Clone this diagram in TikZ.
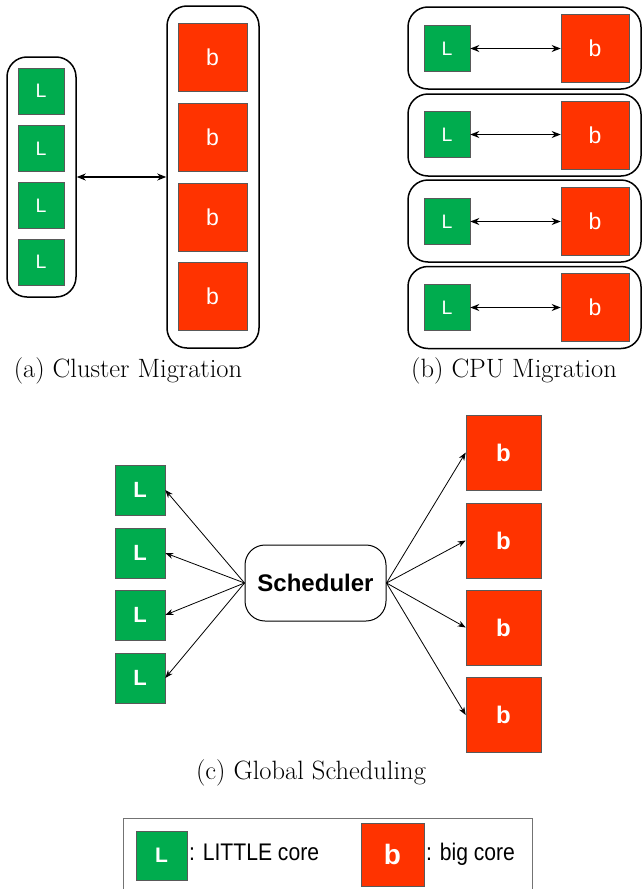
\documentclass[tikz,border=0pt]{standalone}
\usepackage{fontspec}
\newfontfamily\arial{Liberation Sans}
\usetikzlibrary{arrows.meta}
\definecolor{cgreen}{RGB}{0,172,78}
\definecolor{cred}{RGB}{255,51,0}
\begin{document}
\begin{tikzpicture}[x=1pt,y=-1pt,
  core/.style={draw=black!65,line width=0.6pt,inner sep=0pt,text=white},
  little/.style={core,fill=cgreen,minimum size=#1},
  big/.style={core,fill=cred,minimum size=#1},
  ltxt/.style={font=\arial\fontsize{19.5}{19.5}\selectfont},
  btxt/.style={font=\arial\fontsize{23}{23}\selectfont},
  lbold/.style={font=\arial\bfseries\fontsize{22}{22}\selectfont},
  bbold/.style={font=\arial\bfseries\fontsize{24}{24}\selectfont},
  cont/.style={draw=black,line width=1.5pt,rounded corners=20pt,inner sep=0pt},
  dbl/.style={{Stealth[length=9pt,width=7pt]}-{Stealth[length=9pt,width=7pt]},line width=1.6pt},
  sarr/.style={-{Stealth[length=8pt,width=6pt]},line width=0.8pt},
  capt/.style={font=\fontsize{26.5}{30}\selectfont,inner sep=0pt},
  legt/.style={anchor=west,inner sep=0pt,xscale=0.88,transform shape,font=\arial\fontsize{24}{24}\selectfont}
]
\useasboundingbox (0,0) rectangle (642,889);
% ---------- (a) Cluster Migration
\node[cont,minimum width=69pt,minimum height=240pt] (ca) at (41.5,177) {};
\node[cont,minimum width=92pt,minimum height=342pt] (cb) at (213,177) {};
\foreach \y [count=\i] in {91,148.5,205.5,262}
  \node[little=46pt,ltxt] (aL\i) at (41,\y) {L};
\foreach \y [count=\i] in {57.5,137.5,217,296}
  \node[big=68pt,minimum width=69pt,btxt] (ab\i) at (212.5,\y) {b};
\draw[dbl] (ca.east) -- (cb.west);
\node[capt] (capa) at (128,371) {(a) Cluster Migration};
% ---------- (b) CPU Migration
\foreach \y/\gy/\ry [count=\i] in {48/48.5/48,135/134.5/135,221/221.5/221,307.5/307.5/307.5}{
  \node[cont,minimum width=233pt,minimum height=82pt] (row\i) at (524.5,\y) {};
  \node[little=46pt,ltxt] (bL\i) at (447,\gy) {L};
  \node[big=68pt,btxt] (bb\i) at (595,\ry) {b};
  \draw[dbl] (bL\i.east) -- (bb\i.west |- bL\i.east);
}
\node[capt] (capb) at (514,371) {(b) CPU Migration};
% ---------- (c) Global Scheduling
\node[draw=black,line width=1pt,rounded corners=20pt,minimum width=141pt,minimum height=76pt,
  font=\arial\bfseries\fontsize{24}{24}\selectfont] (sch) at (315.5,583) {Scheduler};
\foreach \y [count=\i] in {490,553,615,678}{
  \node[little=50pt,lbold] (cL\i) at (140,\y) {L};
  \draw[sarr] (sch.west) -- (cL\i.east);
}
\foreach \y [count=\i] in {452.5,540.5,627.5,715}{
  \node[big=75pt,bbold] (cb\i) at (503.5,\y) {b};
  \draw[sarr] (sch.east) -- (cb\i.west);
}
\node[capt] (capc) at (311,773) {(c) Global Scheduling};
% ---------- legend
\draw[black!55,line width=0.8pt] (123,895) -- (123,818) -- (532,818) -- (532,895);
\node[little=49pt,minimum width=51pt,font=\arial\bfseries\fontsize{21}{21}\selectfont] (legL) at (161.5,855.5) {L};
\node[legt] (legLt) at (189,852) {: LITTLE core};
\node[big=63pt,font=\arial\bfseries\fontsize{28}{28}\selectfont] (legb) at (392.5,854.5) {b};
\node[legt] (legbt) at (426,854) {: big core};
\end{tikzpicture}
\end{document}
